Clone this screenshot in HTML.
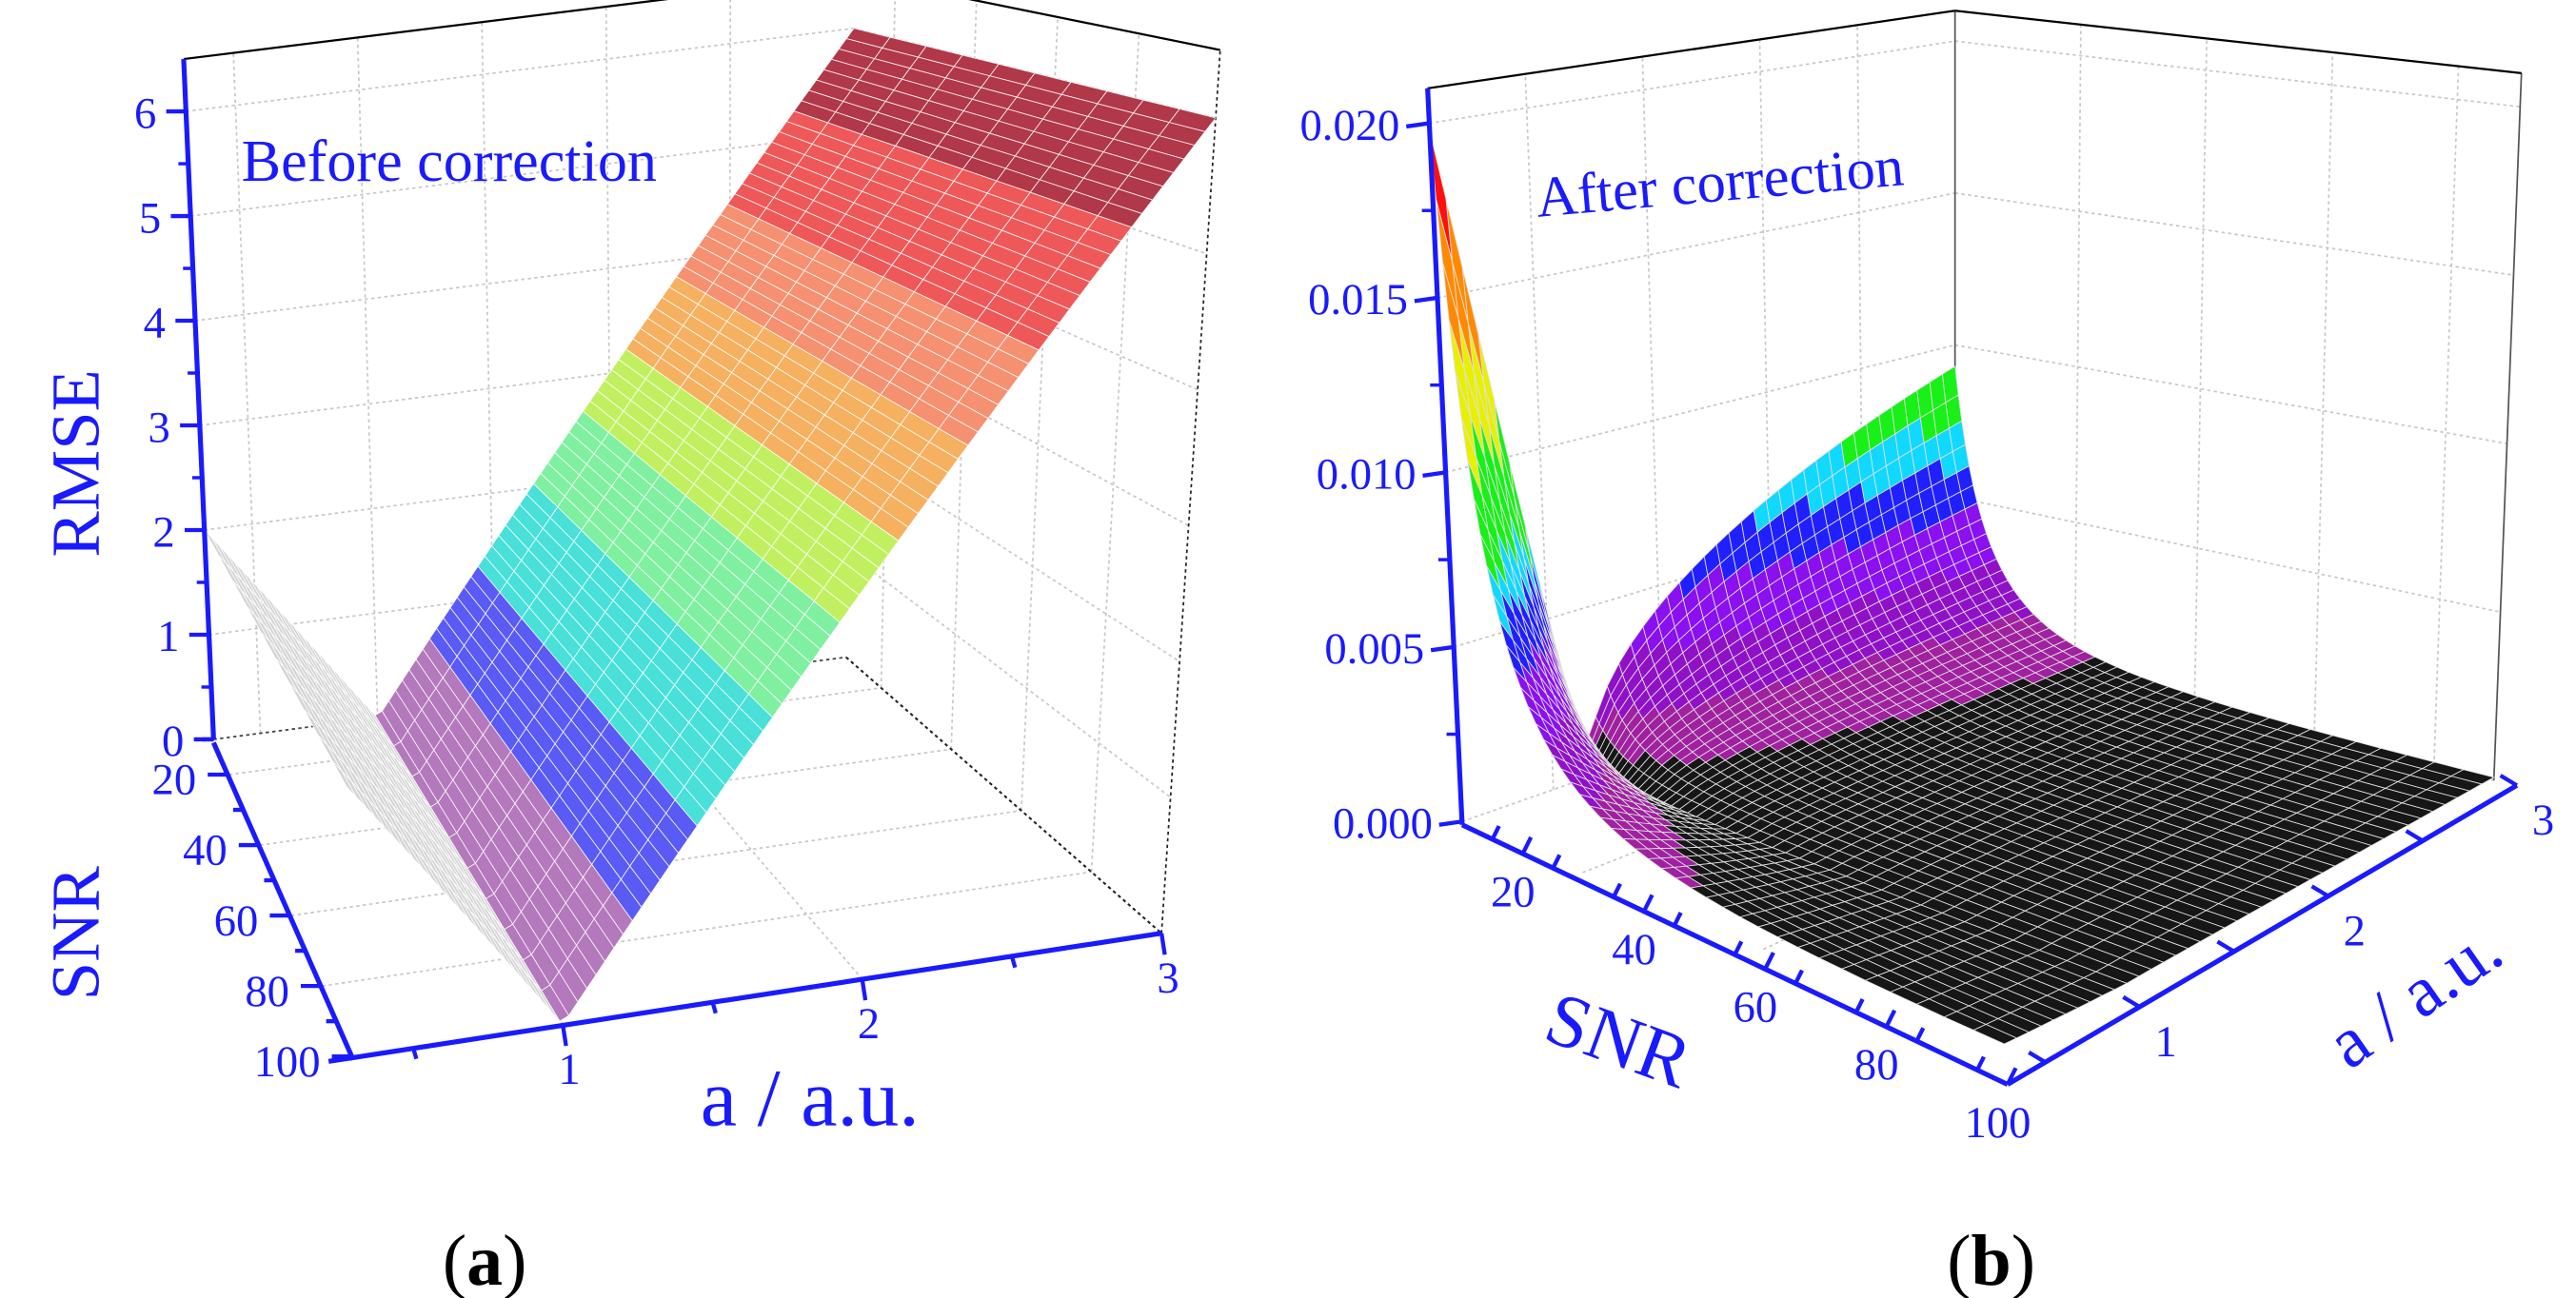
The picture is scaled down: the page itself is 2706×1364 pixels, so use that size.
<!DOCTYPE html>
<html><head><meta charset="utf-8">
<style>
html,body{margin:0;padding:0;background:#fff;}
svg{display:block;}
text{font-family:"Liberation Serif",serif;}
</style></head>
<body>
<svg id="fig" xmlns="http://www.w3.org/2000/svg" width="2706" height="1364" viewBox="0 0 1568 790" preserveAspectRatio="none">
<g id="pa"></g>
<g id="pb"></g>
<text x="147" y="110" font-size="36" fill="#1a1aff">Before correction</text>
<text transform="translate(60,282) rotate(-90)" text-anchor="middle" font-size="42" fill="#1a1aff">RMSE</text>
<text transform="translate(60,568) rotate(-90)" text-anchor="middle" font-size="42" fill="#1a1aff">SNR</text>
<text x="493" y="685" text-anchor="middle" font-size="50" fill="#1a1aff">a / a.u.</text>
<text x="295" y="782" text-anchor="middle" font-size="44" fill="#000">(<tspan font-weight="bold">a</tspan>)</text>
<text transform="translate(936,132) rotate(-5)" font-size="35" fill="#1a1aff">After correction</text>
<text transform="translate(938,632) rotate(20)" font-size="46" fill="#1a1aff">SNR</text>
<text transform="translate(1478,618) rotate(-35)" text-anchor="middle" font-size="44" fill="#1a1aff">a / a.u.</text>
<text x="1212" y="782" text-anchor="middle" font-size="44" fill="#000">(<tspan font-weight="bold">b</tspan>)</text>
</svg>
<script>
const rmseTicks=[0,1,2,3,4,5,6];
const snrTicksA=[20,40,60,80,100];
const aTicks=[1,2,3];
const errTicks=[0,0.005,0.010,0.015,0.020];
const errLabels=['0.000','0.005','0.010','0.015','0.020'];
const snrTicksB=[20,40,60,80,100];
// panel a surface: RMSE slope above/below a=1
const slopeAbove=3.0;
const slopeBelow=2.86;
const bandsA=[0.67,1.33,2.0,2.67,3.2,3.8,4.5,5.3,9];
const colorsA=['#b478bc','#5a5af5','#48e0d8','#7ff0a0','#c0f060','#f5b060','#f59070','#ee5858','#b03848'];
// panel b surface: RMSE = scale*(10/SNR)^2*h(a)
const bScale=20; // in units of 0.001
const hLeft=0.97, hRight=0.445, hMin=0.02;
const bandsB=[0.8,1.8,3.2,4.8,6.2,7.5,10.5,13.5,16.5,99];
const colorsB=['#161616','#a020a0','#9010c8','#8a10f0','#2020ff','#10d8ff','#18f018','#e8f000','#ff8a00','#ff1010'];

const NS='http://www.w3.org/2000/svg';
function el(p,t,at){const e=document.createElementNS(NS,t);for(const k in at)e.setAttribute(k,at[k]);p.appendChild(e);return e;}
function mkProj(c){
  return function(a,s,z){
    const u=(a-c.aMin)/(c.aMax-c.aMin), w=(s-c.sMin)/(c.sMax-c.sMin);
    const k=[(1-u)*(1-w),(1-u)*w,u*w,u*(1-w)];
    const B=[c.L,c.F,c.R,c.K], V=[c.vL,c.vF,c.vR,c.vK];
    let x=0,y=0;
    for(let i=0;i<4;i++){x+=k[i]*(B[i][0]+z*V[i][0]);y+=k[i]*(B[i][1]+z*V[i][1]);}
    return [x,y];
  };
}
function pts(arr){return arr.map(p=>p[0].toFixed(1)+','+p[1].toFixed(1)).join(' ');}
function line(g,p,q,st,w,dash,name){
  const e=el(g,'line',{x1:p[0],y1:p[1],x2:q[0],y2:q[1],stroke:st,'stroke-width':w});
  if(dash)e.setAttribute('stroke-dasharray',dash);
  
  
  return e;
}
function txt(g,x,y,s,size,anchor,name){
  const t=el(g,'text',{x:x,y:y,'font-size':size,fill:'#1a1aff','text-anchor':anchor});
  t.textContent=s;
  
  
}
const BLUE='#1a1aff';

// ---------- Panel A ----------
(function(){
  const g=document.getElementById('pa');
  const c={aMin:0.3,aMax:3,sMin:10,sMax:100,L:[130,450],F:[215,643],R:[707,568],K:[515,400],
    vL:[-2.8,-63.7],vF:[-2,-82],vR:[5.5,-82.7],vK:[0.8,-63.8]};
  const P=mkProj(c), zt=6.5;
  const GR='#c8c8c8';
  rmseTicks.forEach(z=>{line(g,P(0.3,10,z),P(3,10,z),GR,1,'2,2','back-wall-gridline');line(g,P(3,10,z),P(3,100,z),GR,1,'2,2','side-wall-gridline');});
  [0.5,1,1.5,2,2.5].forEach(a=>line(g,P(a,10,0),P(a,10,zt),GR,1,'2,2','back-wall-gridline'));
  [20,40,60,80].forEach(s=>line(g,P(3,s,0),P(3,s,zt),GR,1,'2,2','side-wall-gridline'));
  [1,2].forEach(a=>line(g,P(a,10,0),P(a,100,0),GR,1,'2,2','floor-gridline'));
  [20,40,60,80].forEach(s=>line(g,P(0.3,s,0),P(3,s,0),GR,1,'2,2','floor-gridline'));
  line(g,P(0.3,10,0),P(3,10,0),'#444',1,'2,2','floor-edge');
  line(g,P(3,10,0),P(3,100,0),'#222',1.2,'2,2','floor-edge');
  line(g,P(3,100,0),P(3,100,zt),'#222',1,'2,2','front-right-edge');
  const NA=90,NSn=10,quads=[];
  const zf=a=>a>=1?slopeAbove*(a-1):slopeBelow*(1-a);
  for(let i=0;i<NA;i++)for(let j=0;j<NSn;j++){
    const a0=0.3+2.7*i/NA,a1=0.3+2.7*(i+1)/NA,s0=10+90*j/NSn,s1=10+90*(j+1)/NSn;
    const am=(a0+a1)/2, zm=zf(am);
    let col;
    if(am<1)col='#d4d4d4';else{let k=0;while(k<bandsA.length-1&&zm>bandsA[k])k++;col=colorsA[k];}
    const d=((s0+s1)/2-10)/90+(1-(am-0.3)/2.7);
    quads.push({d:d,p:[P(a0,s0,zf(a0)),P(a1,s0,zf(a1)),P(a1,s1,zf(a1)),P(a0,s1,zf(a0))],col:col});
  }
  quads.sort((x,y)=>x.d-y.d);
  const sg=el(g,'g',{});
  
  
  quads.forEach(q=>{const e=el(sg,'polygon',{points:pts(q.p),fill:q.col,stroke:'#ffffff','stroke-width':0.5,'stroke-opacity':0.85});
    
    });
  line(g,P(0.3,10,zt),P(3,10,zt),'#000',1.3,null,'top-frame-edge');
  line(g,P(3,10,zt),P(3,100,zt),'#000',1.3,null,'top-frame-edge');
  line(g,P(0.3,10,0),P(0.3,10,zt),BLUE,3,null,'rmse-axis');
  rmseTicks.forEach(z=>{const p=P(0.3,10,z);line(g,p,[p[0]-12,p[1]],BLUE,2.5,null,'rmse-tick');txt(g,p[0]-18,p[1]+10,String(z),27,'end','rmse-tick-label');
    if(z<6){const m=P(0.3,10,z+0.5);line(g,m,[m[0]-6,m[1]],BLUE,2,null,'rmse-minor-tick');}});
  line(g,[130,452],[215,645],BLUE,3,null,'snr-axis-a');
  for(let s=10;s<=100;s+=10){const p=P(0.3,s,0);const maj=snrTicksA.indexOf(s)>=0;line(g,p,[p[0]-(maj?13:7),p[1]],BLUE,2.5,null,'snr-tick');}
  snrTicksA.forEach(s=>{const p=P(0.3,s,0);txt(g,p[0]-20,p[1]+12,String(s),27,'end','snr-tick-label');});
  line(g,[200,646],P(3,100,0),BLUE,3,null,'a-axis-a');
  [0.5,1,1.5,2,2.5,3].forEach(a=>{const p=P(a,100,0);const maj=aTicks.indexOf(a)>=0;line(g,p,[p[0]+2,p[1]+(maj?13:7)],BLUE,2.5,null,'a-tick');});
  aTicks.forEach(a=>{const p=P(a,100,0);txt(g,p[0]+4,p[1]+36,String(a),27,'middle','a-tick-label');});
})();

// ---------- Panel B ----------
(function(){
  const g=document.getElementById('pb');
  const c={aMin:0.3,aMax:3,sMin:10,sMax:100,L:[890,500],F:[1220,640],R:[1518,475],K:[1190,395],
    vL:[-1,-21.25],vF:[0,-23],vR:[0.8,-20.5],vK:[0,-18.5]};
  const P=mkProj(c), zt=21;
  const GR='#c8c8c8';
  [0,5,10,15,20].forEach(z=>{line(g,P(0.3,10,z),P(3,10,z),GR,1,'2,2','back-wall-gridline');line(g,P(3,10,z),P(3,100,z),GR,1,'2,2','side-wall-gridline');});
  [0.8,1.4,2,2.5].forEach(a=>line(g,P(a,10,0),P(a,10,zt),GR,1,'2,2','back-wall-gridline'));
  [30,50,70,90].forEach(s=>line(g,P(3,s,0),P(3,s,zt),GR,1,'2,2','side-wall-gridline'));
  [30,60].forEach(s=>line(g,P(0.3,s,0),P(3,s,0),GR,1,'2,2','floor-gridline'));
  line(g,P(3,10,0),P(3,10,zt),'#555',1,null,'back-edge');
  line(g,P(3,100,0),P(3,100,zt),'#555',1,null,'right-edge');
  const h=a=>a<1?hMin+hLeft*Math.pow((1-a)/0.7,1.1):hMin+hRight*Math.pow((a-1)/2,0.5);
  const zf=(a,s)=>bScale*Math.pow(10/s,2)*h(a);
  const NA=40,NSn=44,quads=[];
  const sv=j=>10*Math.pow(10,j/NSn);
  for(let i=0;i<NA;i++)for(let j=0;j<NSn;j++){
    const a0=0.3+2.7*i/NA,a1=0.3+2.7*(i+1)/NA,s0=sv(j),s1=sv(j+1);
    const zm=zf((a0+a1)/2,(s0+s1)/2);
    let k=0;while(k<bandsB.length-1&&zm>bandsB[k])k++;
    const d=((s0+s1)/2-10)/90+(1-((a0+a1)/2-0.3)/2.7);
    quads.push({d:d,p:[P(a0,s0,zf(a0,s0)),P(a1,s0,zf(a1,s0)),P(a1,s1,zf(a1,s1)),P(a0,s1,zf(a0,s1))],col:colorsB[k]});
  }
  quads.sort((x,y)=>x.d-y.d);
  const sg=el(g,'g',{});
  
  
  quads.forEach(q=>{const e=el(sg,'polygon',{points:pts(q.p),fill:q.col,stroke:'#e0e0e0','stroke-width':0.5});
    
    });
  line(g,P(0.3,10,zt),P(3,10,zt),'#000',1.3,null,'top-frame-edge');
  line(g,P(3,10,zt),P(3,100,zt),'#000',1.3,null,'top-frame-edge');
  line(g,[890,502],P(0.3,10,zt),BLUE,3,null,'rmse-axis-b');
  errTicks.forEach((v,i)=>{const p=P(0.3,10,v*1000);line(g,p,[p[0]-14,p[1]+2],BLUE,2.5,null,'rmse-tick-b');txt(g,p[0]-18,p[1]+10,errLabels[i],27,'end','rmse-tick-label-b');
    if(i<4){const m=P(0.3,10,v*1000+2.5);line(g,m,[m[0]-7,m[1]],BLUE,2,null,'rmse-minor-tick-b');}});
  const sp=s=>{const t=(s-10)/90;return [890+t*(1222-890),502+t*(660-502)];};
  line(g,sp(10),sp(100),BLUE,3,null,'snr-axis-b');
  for(let s=15;s<=100;s+=10){const p=sp(s);line(g,p,[p[0]+4,p[1]-8],BLUE,2.5,null,'snr-tick-b');}
  for(let s=20;s<=100;s+=20){const p=sp(s);line(g,p,[p[0]+5,p[1]-10],BLUE,2.5,null,'snr-tick-b');}
  snrTicksB.forEach(s=>{const p=sp(s);txt(g,p[0]-6,p[1]+32,String(s),27,'middle','snr-tick-label-b');});
  const ap=a=>{const t=(a-0.3)/2.7;return [1222+t*(1532-1222),660+t*(478-660)];};
  line(g,ap(0.3),ap(3),BLUE,3,null,'a-axis-b');
  [0.5,1,1.5,2,2.5,3].forEach(a=>{const p=ap(a);line(g,p,[p[0]-10,p[1]-6],BLUE,2.5,null,'a-tick-b');});
  aTicks.forEach(a=>{const p=ap(a);txt(g,p[0]+16,p[1]+30,String(a),27,'middle','a-tick-label-b');});
})();
</script>
</body></html>
